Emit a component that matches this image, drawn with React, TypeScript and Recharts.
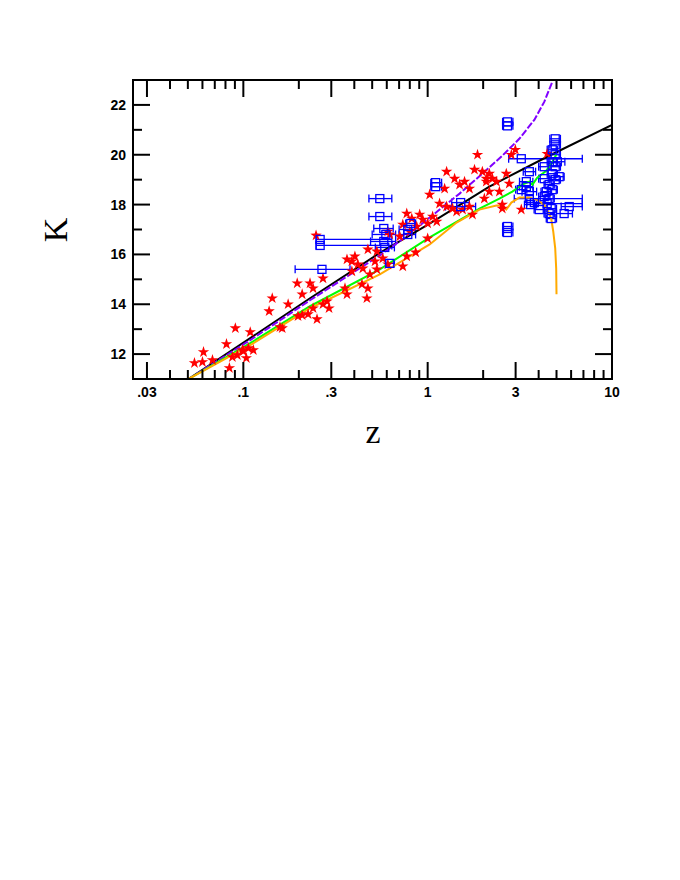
import { ComposedChart, Line, Scatter, XAxis, YAxis, ErrorBar, ReferenceArea } from "recharts";

const W = 672;
const H = 470;
const X_AXIS_H = 30;
const Y_AXIS_W = 40;
const M = { top: 72, right: 68, bottom: 99 - X_AXIS_H, left: 125 - Y_AXIS_W };
const PLOT_LEFT = M.left + Y_AXIS_W;
const PLOT_TOP = M.top;
const PLOT_RIGHT = W - M.right;
const PLOT_BOTTOM = H - M.bottom - X_AXIS_H;

const xTicks = [0.03, 0.04, 0.05, 0.06, 0.07, 0.08, 0.09, 0.1, 0.2, 0.3, 0.4, 0.5, 0.6, 0.7, 0.8, 0.9, 1, 2, 3, 4, 5, 6, 7, 8, 9, 10];
const xTickLabels = [".03", "", "", "", "", "", "", ".1", "", ".3", "", "", "", "", "", "", "1", "", "3", "", "", "", "", "", "", "10"];
const yTicks = [12, 13, 14, 15, 16, 17, 18, 19, 20, 21, 22];

// red stars
const redZ = [
  0.0543, 0.06, 0.0608, 0.068, 0.081, 0.084, 0.0872, 0.0905, 0.0928, 0.0988, 0.1038, 0.1064, 0.1133, 0.109, 0.1,
  0.138, 0.1435, 0.158, 0.1625, 0.175, 0.196, 0.2085, 0.198, 0.2085, 0.2245, 0.248, 0.474, 0.23, 0.239, 0.2705,
  0.365, 0.388, 0.403, 0.418, 0.445, 0.486, 0.53, 0.518, 0.356, 0.365, 0.44, 0.474, 0.468, 0.571, 0.2845,
  0.2705, 0.2917, 0.239, 0.251, 0.388, 0.608, 1.864, 1.795, 1.267, 1.4, 1.49, 1.585, 1.686, 1.98, 2.08,
  1.025, 1.16, 1.267, 1.365, 1.435, 1.546, 1.686, 1.75, 0.77, 0.82, 0.905, 0.94, 1.0, 1.064, 1.12,
  0.872, 0.733, 0.8, 1.0, 0.706, 0.861, 0.77, 0.623, 0.53, 0.608, 0.733, 1.236, 2.99, 2.845, 2.16,
  2.245, 2.36, 2.08, 2.67, 2.77, 2.45, 2.16, 2.54, 3.22, 4.45, 2.03, 2.54,
];
const redK = [
  11.64, 11.68, 12.08, 11.76, 12.4, 11.44, 11.88, 13.04, 11.96, 12.16, 11.84, 12.24, 12.16, 12.88, 12.12,
  13.72, 14.24, 13.08, 13.04, 14.0, 14.84, 14.4, 13.52, 13.56, 13.6, 16.76, 16.2, 14.84, 14.64, 15.04,
  15.8, 15.72, 15.92, 15.6, 15.44, 15.2, 15.4, 15.72, 14.64, 14.4, 14.8, 14.64, 14.24, 15.84, 14.12,
  14.0, 13.84, 13.84, 13.4, 15.32, 16.92, 20.0, 19.4, 19.32, 19.04, 18.8, 18.92, 18.64, 19.32, 19.04,
  18.4, 18.04, 17.92, 17.84, 17.72, 17.8, 17.92, 17.6, 17.64, 17.44, 17.6, 17.4, 17.24, 17.52, 17.32,
  17.12, 17.2, 16.92, 16.64, 16.72, 16.08, 15.92, 16.8, 16.12, 15.6, 15.52, 18.64, 20.2, 20.0, 19.24,
  19.04, 18.92, 18.92, 19.24, 18.84, 18.52, 18.52, 18.0, 17.8, 20.04, 18.24, 17.84,
];

// blue squares with z ranges
const blueZ = [
  0.261, 0.261, 0.267, 0.55, 0.55, 0.578, 0.593, 0.578, 0.585, 0.623, 0.78, 0.78, 0.81, 1.105, 1.105, 1.51, 1.51,
  2.71, 2.71, 2.71, 2.71, 3.22, 3.43, 3.43, 3.56, 3.56, 3.22, 3.56, 3.62, 3.79,
  4.92, 4.92, 4.74, 4.92, 4.74, 4.92, 4.74, 4.92, 4.56, 4.74, 4.4, 4.56, 4.45, 4.68, 4.56, 4.68,
  5.5, 5.86, 4.29, 4.29, 5.17, 5.05, 4.29, 4.03,
];
const blueK = [
  16.6, 16.36, 15.4, 18.24, 17.52, 17.04, 16.8, 16.52, 16.28, 15.64, 17.0, 16.8, 17.24, 18.72, 18.88, 17.92, 18.08,
  21.32, 21.16, 17.12, 16.88, 19.84, 18.72, 18.92, 19.32, 18.52, 18.6, 18.24, 18.0, 18.08,
  20.64, 20.4, 20.2, 20.0, 19.72, 19.52, 19.24, 19.0, 18.8, 18.6, 18.52, 18.24, 18.04, 17.84, 17.64, 17.44,
  17.64, 17.92, 19.52, 19.04, 19.12, 19.72, 18.32, 17.8,
];
const blueLo = [
  0.248, 0.248, 0.191, 0.48, 0.48, 0.51, 0.5, 0.49, 0.52, 0.59, 0.7, 0.7, 0.76, 1.04, 1.04, 1.25, 1.35,
  2.55, 2.55, 2.55, 2.55, 2.75, 3.15, 3.15, 3.3, 3.25, 3.0, 2.95, 3.35, 3.45,
  4.6, 4.6, 4.45, 4.6, 4.45, 4.6, 4.45, 4.6, 4.28, 4.45, 4.12, 4.28, 3.75, 4.4, 4.28, 4.4,
  5.0, 5.3, 4.0, 4.0, 4.85, 4.6, 4.0, 3.78,
];
const blueHi = [
  0.639, 0.639, 0.379, 0.639, 0.639, 0.65, 0.67, 0.67, 0.66, 0.66, 0.86, 0.86, 0.86, 1.19, 1.19, 1.82, 1.68,
  2.9, 2.9, 2.9, 2.9, 6.9, 3.72, 3.72, 3.85, 3.9, 3.45, 6.9, 3.9, 4.3,
  5.25, 5.25, 5.05, 5.25, 5.05, 5.25, 5.05, 5.25, 4.86, 5.05, 4.7, 4.86, 6.9, 5.0, 4.86, 5.0,
  6.1, 6.9, 4.6, 4.6, 5.5, 5.55, 4.6, 4.3,
];

// model curves
const blackZ = [0.0504, 0.109, 0.23, 0.55, 1.025, 2.16, 4.56, 10];
const blackK = [11.0, 12.64, 14.24, 16.06, 17.24, 18.72, 19.96, 21.2];
const purpleZ = [0.0504, 0.109, 0.23, 0.55, 0.751, 1.025, 1.49, 1.98, 2.54, 3.14, 3.79, 4.29, 4.74];
const purpleK = [11.0, 12.56, 14.16, 15.96, 16.68, 17.48, 18.44, 19.24, 19.96, 20.64, 21.4, 22.12, 22.92];
const greenZ = [0.0504, 0.109, 0.23, 0.55, 1.025, 1.91, 2.45, 2.88, 3.26, 3.56, 3.7, 3.93, 4.4, 4.74, 4.98];
const greenK = [11.0, 12.44, 13.92, 15.4, 16.68, 17.84, 18.24, 18.52, 18.8, 18.92, 18.8, 19.08, 19.36, 19.68, 20.0];
const orangeZ = [0.0504, 0.109, 0.23, 0.55, 1.025, 1.435, 1.91, 2.36, 2.54, 2.67, 2.845, 3.14, 3.56, 4.03, 4.4, 4.68, 4.8, 4.92, 4.98, 5.0];
const orangeK = [11.0, 12.36, 13.84, 15.2, 16.4, 17.28, 17.8, 17.96, 17.96, 17.8, 18.08, 18.28, 18.28, 18.16, 17.88, 17.44, 16.92, 16.24, 15.44, 14.4];

const toPts = (zs: number[], ks: number[]) => zs.map((z, i) => ({ z, k: ks[i] }));
const redData = toPts(redZ, redK);
const blueData = blueZ.map((z, i) => ({ z, k: blueK[i], xErr: [z - blueLo[i], blueHi[i] - z] }));

const tickFont = { fontFamily: "'Liberation Sans', Arial, sans-serif", fontWeight: 700, fontSize: 14, fill: "#000" };

const XTick = (props: any) => {
  const { x, payload } = props;
  const label = xTickLabels[xTicks.indexOf(payload.value)];
  const len = label ? 17 : 9;
  return (
    <g>
      <line x1={x} x2={x} y1={PLOT_BOTTOM} y2={PLOT_BOTTOM - len} stroke="#000" strokeWidth={2} />
      <line x1={x} x2={x} y1={PLOT_TOP} y2={PLOT_TOP + len} stroke="#000" strokeWidth={2} />
      {label ? (
        <text x={x} y={PLOT_BOTTOM + 18} textAnchor="middle" style={tickFont}>
          {label}
        </text>
      ) : null}
    </g>
  );
};

const YTick = (props: any) => {
  const { y, payload } = props;
  const major = payload.value % 2 === 0;
  const len = major ? 17 : 9;
  return (
    <g>
      <line x1={PLOT_LEFT} x2={PLOT_LEFT + len} y1={y} y2={y} stroke="#000" strokeWidth={2} />
      <line x1={PLOT_RIGHT} x2={PLOT_RIGHT - len} y1={y} y2={y} stroke="#000" strokeWidth={2} />
      {major ? (
        <text x={PLOT_LEFT - 7} y={y + 5} textAnchor="end" style={tickFont}>
          {payload.value}
        </text>
      ) : null}
    </g>
  );
};

const Star = (props: any) => {
  const { cx, cy } = props;
  const pts: string[] = [];
  for (let i = 0; i < 10; i++) {
    const r = i % 2 === 0 ? 6 : 2.3;
    const a = -Math.PI / 2 + (i * Math.PI) / 5;
    pts.push(`${cx + r * Math.cos(a)},${cy + r * Math.sin(a)}`);
  }
  return <polygon points={pts.join(" ")} fill="#ff0000" />;
};

const Square = (props: any) => {
  const { cx, cy } = props;
  return <rect x={cx - 4} y={cy - 4} width={8} height={8} fill="none" stroke="#0000ff" strokeWidth={1.3} />;
};

const labelFont = { fontFamily: "'Liberation Serif', 'Times New Roman', serif", fontSize: 34, fill: "#000" };

export default function App() {
  return (
    <div style={{ width: W, height: H }}>
      <ComposedChart width={W} height={H} margin={M}>
        <XAxis
          type="number"
          dataKey="z"
          scale="log"
          domain={[0.0252, 10]}
          allowDataOverflow
          ticks={xTicks}
          interval={0}
          tick={<XTick />}
          tickLine={false}
          axisLine={{ stroke: "#000", strokeWidth: 2 }}
          height={X_AXIS_H}
          label={{
            content: () => (
              <text x={365} y={435} textAnchor="middle" style={labelFont}>
                z
              </text>
            ),
          }}
        />
        <YAxis
          type="number"
          dataKey="k"
          domain={[11, 23]}
          allowDataOverflow
          ticks={yTicks}
          interval={0}
          tick={<YTick />}
          tickLine={false}
          axisLine={{ stroke: "#000", strokeWidth: 2 }}
          width={Y_AXIS_W}
          label={{
            content: () => (
              <text x={59} y={222} textAnchor="middle" transform="rotate(-90 59 222)" style={labelFont}>
                K
              </text>
            ),
          }}
        />
        <ReferenceArea x1={0.0252} x2={10} y1={11} y2={23} fill="none" stroke="#000" strokeWidth={2} ifOverflow="visible" />
        <Scatter data={redData} shape={<Star />} isAnimationActive={false} />
        <Scatter data={blueData} shape={<Square />} isAnimationActive={false}>
          <ErrorBar dataKey="xErr" direction="x" width={4} stroke="#0000ff" strokeWidth={1.3} isAnimationActive={false} />
        </Scatter>
        <Line data={toPts(blackZ, blackK)} dataKey="k" stroke="#000" strokeWidth={2} dot={false} isAnimationActive={false} />
        <Line data={toPts(purpleZ, purpleK)} dataKey="k" stroke="#8000ff" strokeWidth={2} strokeDasharray="7 2" dot={false} isAnimationActive={false} />
        <Line data={toPts(greenZ, greenK)} dataKey="k" stroke="#00ff00" strokeWidth={2} dot={false} isAnimationActive={false} />
        <Line data={toPts(orangeZ, orangeK)} dataKey="k" stroke="#ffaa00" strokeWidth={2} dot={false} isAnimationActive={false} />
      </ComposedChart>
    </div>
  );
}
